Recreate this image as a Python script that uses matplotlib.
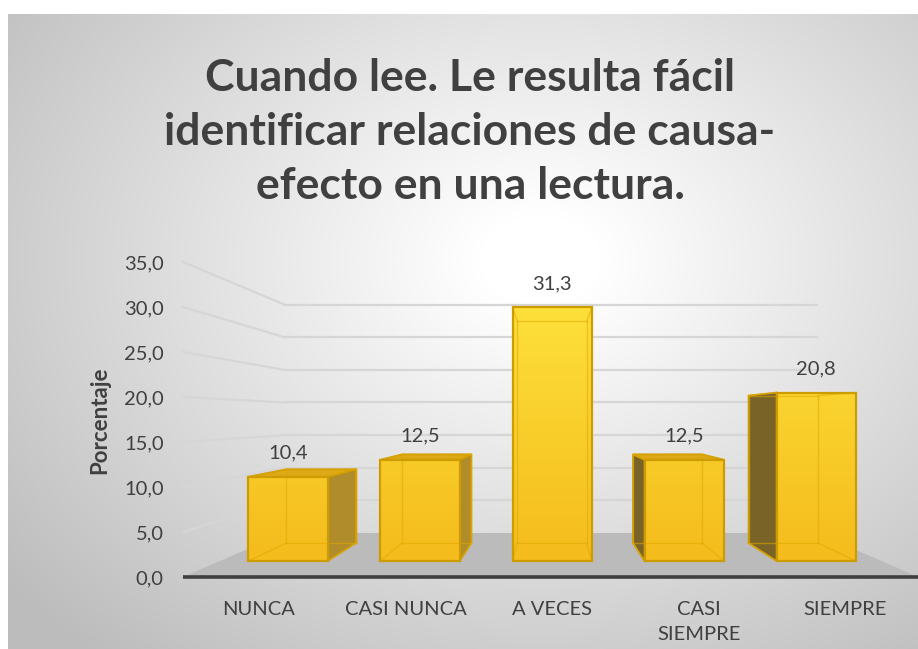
"""Fake-3D column chart: Cuando lee / causa-efecto."""

import numpy as np
import matplotlib
matplotlib.use("Agg")
import matplotlib.pyplot as plt
from matplotlib.patches import Polygon
from matplotlib.colors import to_rgb

categories = ["NUNCA", "CASI NUNCA", "A VECES", "CASI\nSIEMPRE", "SIEMPRE"]
values = [10.4, 12.5, 31.3, 12.5, 20.8]
value_labels = ["10,4", "12,5", "31,3", "12,5", "20,8"]
y_ticks = [0, 5, 10, 15, 20, 25, 30, 35]
y_tick_labels = ["0,0", "5,0", "10,0", "15,0", "20,0", "25,0", "30,0", "35,0"]
title = "Cuando lee. Le resulta fácil\nidentificar relaciones de causa-\nefecto en una lectura."
y_label = "Porcentaje"

W, H = 918, 649
FONT = "Lato"
TEXT = "#404040"

# perspective: vanishing point in data units, depth factors
VP_X, VP_Y = 2.0, 17.78
S_FRONT, S_BACK, S_WALL = 0.9, 0.7875, 0.725
X0, X1 = -0.516, 4.494
HALF = 0.3


def proj(x, v, s):
    return (VP_X + s * (x - VP_X), VP_Y + s * (v - VP_Y))


def mix(c1, c2, t):
    a, b = np.array(to_rgb(c1)), np.array(to_rgb(c2))
    return a + (b - a) * t


fig = plt.figure(figsize=(W / 100, H / 100), dpi=100)

# background gradient
bg = fig.add_axes([0, 0, 1, 1])
yy, xx = np.mgrid[0:H, 0:W]
d = np.sqrt(((xx - 540) / 600.0) ** 2 + ((yy - 260) / 450.0) ** 2)
g = np.clip(1 - 0.25 * np.clip(d - 0.1, 0, None), 0.74, 1.0)
g[(xx < 8) | (yy < 14)] = 1.0
bg.imshow(np.dstack([g, g, g]), aspect="auto")
bg.axis("off")

ax = fig.add_axes([183 / W, 72 / H, 735 / W, 315 / H])
ax.patch.set_visible(False)
for sp in ax.spines.values():
    sp.set_visible(False)

# walls
for v in y_ticks[1:]:
    bx, by = zip(proj(X0, v, S_WALL), proj(X1, v, S_WALL))
    ax.plot(bx, by, color="#D6D6D6", lw=1.6, zorder=1, clip_on=False)
    lx, ly = zip(proj(X0, v, 1.0), proj(X0, v, S_WALL))
    ax.plot(lx, ly, color="#D6D6D6", lw=1.6, zorder=1, clip_on=False)

# floor
floor = Polygon([proj(X0, 0, 1.0), proj(X1, 0, 1.0), proj(X1, 0, S_WALL), proj(X0, 0, S_WALL)],
                closed=True, facecolor="#BBBBBB", edgecolor="none", zorder=2, clip_on=False)
ax.add_patch(floor)
ax.plot([X0, X1], [0, 0], color="#3F3F3F", lw=2.6, zorder=3, solid_capstyle="butt", clip_on=False)

EDGE = "#CC9C00"
for i, (c, h) in enumerate(zip(range(len(values)), values)):
    z = 4 + i * 0.1
    xl, xr = c - HALF, c + HALF
    fb = [proj(xl, 0, S_FRONT), proj(xr, 0, S_FRONT), proj(xr, h, S_FRONT), proj(xl, h, S_FRONT)]
    bb = [proj(xl, 0, S_BACK), proj(xr, 0, S_BACK), proj(xr, h, S_BACK), proj(xl, h, S_BACK)]
    ax.add_patch(Polygon(bb, closed=True, facecolor="#F4BD1E", edgecolor=EDGE, lw=1, zorder=z, clip_on=False))
    # visible side face
    if xr < VP_X:
        side = [fb[1], bb[1], bb[2], fb[2]]
        ax.add_patch(Polygon(side, closed=True, facecolor="#B08C2A", edgecolor=EDGE, lw=1.2,
                             zorder=z + 0.01, clip_on=False))
    elif xl > VP_X:
        side = [fb[0], bb[0], bb[3], fb[3]]
        ax.add_patch(Polygon(side, closed=True, facecolor="#7A6326", edgecolor=EDGE, lw=1.2,
                             zorder=z + 0.01, clip_on=False))
    if h < VP_Y:
        top = [fb[3], fb[2], bb[2], bb[3]]
        ax.add_patch(Polygon(top, closed=True, facecolor="#DDA916", edgecolor=EDGE, lw=1.2,
                             zorder=z + 0.02, clip_on=False))
    # front face with vertical gradient
    front = Polygon(fb, closed=True, facecolor="#F6C224", edgecolor="none", zorder=z + 0.03, clip_on=False)
    ax.add_patch(front)
    n = 64
    tvals = np.linspace(h / 35.0, 0, n)
    grad = np.array([mix("#F4BC1C", "#FFE43E", t) for t in tvals]).reshape(n, 1, 3)
    im = ax.imshow(grad, extent=(fb[0][0], fb[1][0], fb[0][1], fb[2][1]), aspect="auto",
                   zorder=z + 0.03, interpolation="bilinear")
    im.set_clip_path(front)
    # hidden edges seen through the glassy front
    for p, q in [(bb[0], bb[1]), (bb[1], bb[2]), (bb[2], bb[3]), (bb[3], bb[0]),
                 (fb[0], bb[0]), (fb[1], bb[1]), (fb[2], bb[2]), (fb[3], bb[3])]:
        ax.plot([p[0], q[0]], [p[1], q[1]], color="#E2A800", lw=1, alpha=0.55,
                zorder=z + 0.04, clip_on=False)
    ax.add_patch(Polygon(fb, closed=True, facecolor="none", edgecolor=EDGE, lw=1.6,
                         zorder=z + 0.05, clip_on=False))
    ax.annotate(value_labels[i], xy=proj(c, h, S_FRONT), xytext=(0, 17), textcoords="offset points",
                ha="center", va="center", fontsize=14.5, family=FONT, color=TEXT, zorder=10)

ax.set_xlim(X0, X1)
ax.set_ylim(0, 35)
ax.set_yticks(y_ticks)
ax.set_yticklabels(y_tick_labels)
ax.set_xticks(range(len(categories)))
ax.set_xticklabels(categories, linespacing=1.6)
ax.tick_params(axis="y", length=0, pad=14, labelsize=14.5, labelcolor=TEXT)
ax.tick_params(axis="x", length=0, pad=17, labelsize=14.5, labelcolor=TEXT)
for lab in ax.get_xticklabels() + ax.get_yticklabels():
    lab.set_family(FONT)

fig.text(100 / W, 1 - 420 / H, y_label, rotation=90, ha="center", va="center",
         fontsize=16, fontweight="bold", family=FONT, color=TEXT)
fig.text(470 / W, 1 - 132 / H, title, ha="center", va="center", fontsize=32,
         fontweight="bold", family=FONT, color=TEXT, linespacing=1.42)

fig.savefig("out.png", dpi=100)
